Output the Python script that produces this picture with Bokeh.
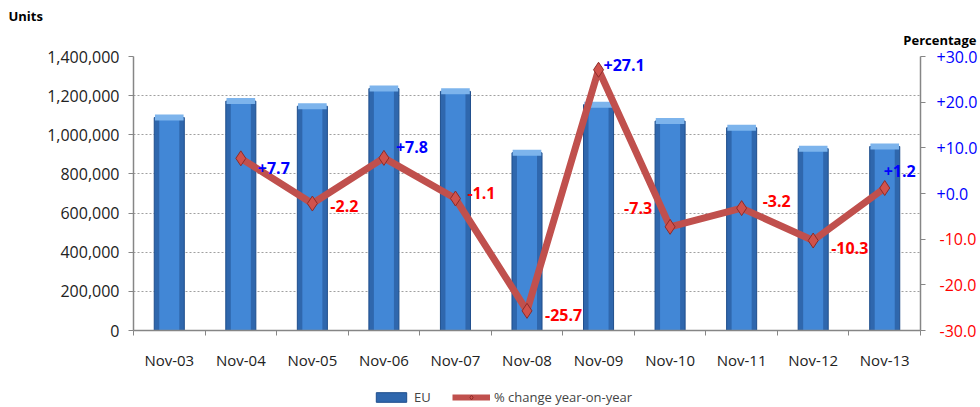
from bokeh.plotting import figure
from bokeh.layouts import column
from bokeh.models import (Range1d, LinearAxis, FixedTicker, NumeralTickFormatter,
                          ColumnDataSource, Legend, LegendItem, LabelSet, Title)
from bokeh.core.properties import value
from bokeh.embed import file_html
from bokeh.resources import INLINE

categories = ["Nov-03", "Nov-04", "Nov-05", "Nov-06", "Nov-07", "Nov-08",
              "Nov-09", "Nov-10", "Nov-11", "Nov-12", "Nov-13"]
eu_units = [1088000, 1172000, 1146000, 1236000, 1222000, 908000,
            1154000, 1070000, 1036000, 929000, 940000]
pct_change = [float("nan"), 7.7, -2.2, 7.8, -1.1, -25.7, 27.1, -7.3, -3.2, -10.3, 1.2]
left_ticks = [0, 200000, 400000, 600000, 800000, 1000000, 1200000, 1400000]
right_ticks = [-30, -20, -10, 0, 10, 20, 30]

# label placement (pixels, up positive) for the % labels
label_dx = [0, 17, 18, 12, 12, 18, 5, -18, 21, 18, -1]
label_dy = [0, -10, -2, 11, 6, -4, 5, 19, 7, -7, 17]

FONT = "Open Sans"
AXIS_GREY = "#868686"
BAR_FILL, BAR_LINE = "#2f67ad", "#1f4e8c"
LINE_COL, MARK_FILL, MARK_LINE = "#c0504d", "#d0524c", "#8e2b28"
n = len(categories)
xs = [i + 0.5 for i in range(n)]

src = ColumnDataSource(dict(
    x=xs, units=eu_units, pct=pct_change,
    txt=["" if v != v else f"{v:+.1f}" for v in pct_change],
    col=["#0000ff" if v == v and v >= 0 else "#ff0000" for v in pct_change],
    dx=label_dx, dy=label_dy,
    align=["right" if d < -5 else "left" for d in label_dx],
))

p = figure(width=980, height=380, output_backend="svg", toolbar_location=None,
           x_range=Range1d(0, n), y_range=Range1d(0, 1400000),
           min_border_left=133, min_border_right=60, min_border_top=56,
           min_border_bottom=50)
p.outline_line_color = None
p.extra_y_ranges = {"pct": Range1d(-30, 30)}

# titles above: "Percentage" (nearer the frame), then "Units"
p.add_layout(Title(text="Percentage", align="right", offset=-56, standoff=12,
                   vertical_align="top",
                   text_font=FONT, text_font_size="13px", text_font_style="bold",
                   text_color="#000000"), "above")
p.add_layout(Title(text="Units", align="left", offset=-125, standoff=0,
                   text_font=FONT, text_font_size="13px", text_font_style="bold",
                   text_color="#000000"), "above")

# x axis: labels at centres, ticks at category boundaries
xa = p.xaxis[0]
xa.ticker = FixedTicker(ticks=xs, minor_ticks=list(range(n + 1)))
xa.major_label_overrides = {x: c for x, c in zip(xs, categories)}
xa.major_tick_line_color = None
xa.major_tick_out = 0
xa.major_tick_in = 0
xa.minor_tick_out = 5
xa.minor_tick_in = 0
xa.minor_tick_line_color = AXIS_GREY
xa.axis_line_color = AXIS_GREY
xa.axis_line_width = 1.5
xa.major_label_text_font = FONT
xa.major_label_text_font_size = "15px"
xa.major_label_text_color = "#222222"
xa.major_label_standoff = 14

ya = p.yaxis[0]
ya.ticker = FixedTicker(ticks=left_ticks)
ya.formatter = NumeralTickFormatter(format="0,0")
ya.axis_line_color = AXIS_GREY
ya.axis_line_width = 1.5
ya.major_tick_line_color = AXIS_GREY
ya.major_tick_out = 5
ya.major_tick_in = 0
ya.minor_tick_line_color = None
ya.major_label_text_font = FONT
ya.major_label_text_font_size = "16px"
ya.major_label_text_color = "#222222"
ya.major_label_standoff = 9

# right axis: blue labels for >= 0
ra = LinearAxis(y_range_name="pct", ticker=FixedTicker(ticks=right_ticks))
ra.major_label_overrides = {t: (f"{t:+.1f}" if t >= 0 else "") for t in right_ticks}
ra.axis_line_color = AXIS_GREY
ra.axis_line_width = 1.5
ra.major_tick_line_color = AXIS_GREY
ra.major_tick_out = 5
ra.major_tick_in = 0
ra.minor_tick_line_color = None
ra.major_label_standoff = 11
ra.major_label_text_font = FONT
ra.major_label_text_font_size = "16px"
ra.major_label_text_color = "#0000ff"
p.add_layout(ra, "right")

# second right axis carrying the red labels for < 0, pulled back onto the first
neg_ticks = [t for t in right_ticks if t < 0]
rb = LinearAxis(y_range_name="pct", ticker=FixedTicker(ticks=neg_ticks))
rb.major_label_overrides = {t: f"{t:+.1f}" for t in neg_ticks}
rb.axis_line_color = None
rb.major_tick_line_color = None
rb.major_tick_out = 0
rb.major_tick_in = 0
rb.minor_tick_line_color = None
rb.major_label_standoff = -41
rb.major_label_text_font = FONT
rb.major_label_text_font_size = "16px"
rb.major_label_text_color = "#ff0000"
p.add_layout(rb, "right")

p.xgrid.grid_line_color = None
p.ygrid.ticker = FixedTicker(ticks=left_ticks)
p.ygrid.grid_line_color = "#a0a0a0"
p.ygrid.grid_line_dash = "2 2"

# bars with a simple 3D look
p.vbar(x="x", top="units", width=0.42, bottom=0, source=src,
       fill_color=BAR_FILL, line_color=BAR_LINE, line_width=1)
p.vbar(x="x", top="units", width=0.28, bottom=0, source=src,
       fill_color="#4287d6", line_color=None)
p.rect(x="x", y="units", width=0.40, height=6, height_units="screen", source=src,
       fill_color="#7db4ec", line_color=None)

p.line(x="x", y="pct", y_range_name="pct", source=src, line_color=LINE_COL, line_width=7)
p.scatter(x="x", y="pct", y_range_name="pct", source=src, marker="diamond",
          size=15, fill_color=MARK_FILL, line_color=MARK_LINE, line_width=1)

p.add_layout(LabelSet(x="x", y="pct", y_range_name="pct", text="txt", source=src,
                      x_offset="dx", y_offset="dy", text_align="align",
                      text_baseline="middle", text_color="col", text_font=value(FONT),
                      text_font_size="16px", text_font_style="bold"))

# legend strip below the chart (its own renderers, kept out of view)
lg = figure(width=980, height=27, output_backend="svg", toolbar_location=None,
            x_range=Range1d(0, n), y_range=Range1d(1e7, 1e7 + 1),
            min_border_left=133, min_border_right=60, min_border_top=0,
            min_border_bottom=0)
lg.axis.visible = False
lg.grid.visible = False
lg.outline_line_color = None
lb = lg.vbar(x="x", top="units", width=0.42, bottom=0, source=src,
             fill_color=BAR_FILL, line_color=BAR_LINE)
ll = lg.line(x="x", y="pct", source=src, line_color=LINE_COL, line_width=6)
lm = lg.scatter(x="x", y="pct", source=src, marker="diamond", size=15,
                fill_color=MARK_FILL, line_color=MARK_LINE)
legend = Legend(items=[LegendItem(label="EU", renderers=[lb]),
                       LegendItem(label="% change year-on-year", renderers=[ll, lm])],
                orientation="horizontal", location=(239, 1),
                label_text_font=FONT, label_text_font_size="13px",
                label_height=14, label_standoff=4,
                glyph_width=38, glyph_height=12, padding=0, margin=0,
                spacing=18, border_line_color=None, background_fill_alpha=0)
lg.add_layout(legend, "center")

open("out.html", "w").write(file_html(column(p, lg), INLINE))
